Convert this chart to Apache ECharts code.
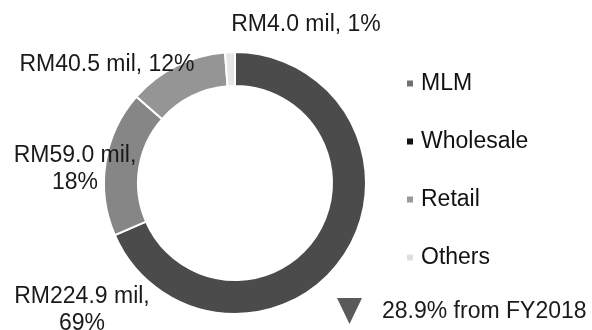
<!DOCTYPE html>
<html><head><meta charset="utf-8">
<script src="https://cdn.jsdelivr.net/npm/echarts@6/dist/echarts.min.js"></script>
<style>html,body{margin:0;padding:0;background:#fff}#c{width:592px;height:330px}</style>
</head><body><div id="c"></div>
<script>
const categories = ['MLM', 'Wholesale', 'Retail', 'Others'];
const values = [224.9, 59.0, 40.5, 4.0];
const percents = [69, 18, 12, 1];
const changeText = '28.9% from FY2018';

const sliceColors = ['#4b4b4b', '#868686', '#959595', '#e6e6e6'];
const legendColors = ['#707070', '#111111', '#9a9a9a', '#dedede'];
const labelBreak = [true, true, false, false];
const labelPos = [[82, 310], [75, 169], [107, 65], [306, 25]];
const FONT = 'Liberation Sans, Arial, sans-serif';

const chart = echarts.init(document.getElementById('c'));
chart.setOption({
  animation: false,
  textStyle: {fontFamily: FONT},
  legend: {
    orient: 'vertical', left: 400, top: 67, itemGap: 35,
    icon: 'rect', itemWidth: 8, itemHeight: 8,
    textStyle: {fontSize: 23, color: '#111', padding: [0, 0, 0, 2], fontFamily: FONT},
    data: categories.map((c, i) => ({name: c, itemStyle: {color: legendColors[i]}}))
  },
  series: [{
    type: 'pie',
    center: [235, 183],
    radius: [97, 131],
    startAngle: 90,
    clockwise: true,
    itemStyle: {borderColor: '#fff', borderWidth: 2},
    label: {
      show: true,
      position: 'outside',
      overflow: 'none',
      fontSize: 23, color: '#1a1a1a', lineHeight: 27, align: 'center',
      fontFamily: FONT,
      formatter: p => 'RM' + values[p.dataIndex].toFixed(1) + ' mil,' + (labelBreak[p.dataIndex] ? '\n' : ' ') + percents[p.dataIndex] + '%'
    },
    labelLine: {show: false},
    labelLayout: p => ({x: labelPos[p.dataIndex][0], y: labelPos[p.dataIndex][1], align: 'center', verticalAlign: 'middle'}),
    data: categories.map((c, i) => ({name: c, value: values[i], itemStyle: {color: sliceColors[i]}}))
  }],
  graphic: [
    {type: 'polygon', shape: {points: [[337, 298], [362, 298], [349.5, 324]]}, style: {fill: '#5a5a5a'}},
    {type: 'text', left: 382, top: 300, style: {text: changeText, fontSize: 23, fill: '#1a1a1a', fontFamily: FONT}}
  ]
});
</script></body></html>
